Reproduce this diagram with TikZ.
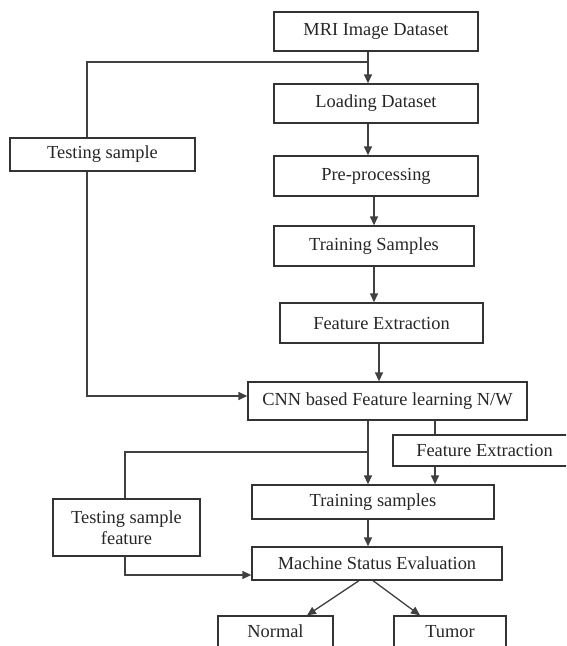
\documentclass[tikz,border=0pt]{standalone}
\usepackage{fontspec}
\setmainfont{Liberation Serif}
\usetikzlibrary{arrows.meta}
\begin{document}
\begin{tikzpicture}[x=1pt,y=-1pt,
  box/.style={draw=black!80,line width=1.3pt,rectangle,inner sep=0pt,
    font=\fontsize{18.4}{21}\selectfont,text=black!85,align=center},
  conn/.style={draw=black!75,line width=1.3pt},
  arr/.style={conn,-{Triangle[length=9pt,width=8pt]}}]
\useasboundingbox (0,0) rectangle (566,646);
\clip (0,0) rectangle (566,646);
% boxes
\node[box,minimum width=204pt,minimum height=39pt] (mri) at (376,31.5) {MRI Image Dataset};
\node[box,minimum width=204pt,minimum height=39pt] (load) at (376,103.5) {Loading Dataset};
\node[box,minimum width=204pt,minimum height=40pt] (pre) at (376,176) {Pre-processing};
\node[box,minimum width=200pt,minimum height=40pt] (trs) at (374,246) {Training Samples};
\node[box,minimum width=203pt,minimum height=40pt] (fe) at (381.5,323) {Feature Extraction};
\node[box,minimum width=279pt,minimum height=38pt] (cnn) at (387.5,401) {CNN based Feature learning N/W};
\node[box,minimum width=185pt,minimum height=33pt] (ts) at (102.5,154.5) {Testing sample};
\node[box,minimum width=183pt,minimum height=31pt] (fe2) at (484.5,450.5) {Feature Extraction};
\node[box,minimum width=242pt,minimum height=34pt] (trs2) at (373,502) {Training samples};
\node[box,minimum width=147pt,minimum height=57pt] (tsf) at (126.5,527.5) {Testing sample\\feature};
\node[box,minimum width=250pt,minimum height=33pt] (mse) at (377,563.5) {Machine Status Evaluation};
\node[box,minimum width=115pt,minimum height=31pt] (normal) at (275.5,631.5) {Normal};
\node[box,minimum width=112pt,minimum height=31pt] (tumor) at (450,631.5) {Tumor};
% guide coordinates
\coordinate (xa) at (368,0);
\coordinate (xb) at (374,0);
\coordinate (xc) at (379,0);
\coordinate (xl) at (87,0);
\coordinate (j1) at (368,62);
\coordinate (j2) at (87,396);
\coordinate (xd) at (368,0);
\coordinate (xe) at (435,0);
\coordinate (xf) at (125,0);
\coordinate (j3) at (368,452);
\coordinate (j4) at (125,575);
% connectors
\draw[arr] (mri.south -| xa) -- (load.north -| xa);
\draw[conn] (j1) -| (ts.north -| xl);
\draw[arr] (load.south -| xa) -- (pre.north -| xa);
\draw[arr] (pre.south -| xb) -- (trs.north -| xb);
\draw[arr] (trs.south -| xb) -- (fe.north -| xb);
\draw[arr] (fe.south -| xc) -- (cnn.north -| xc);
\draw[arr] (ts.south -| xl) -- (j2) -- (cnn.west |- j2);
\draw[arr] (cnn.south -| xd) -- (trs2.north -| xd);
\draw[conn] (cnn.south -| xe) -- (fe2.north -| xe);
\draw[arr] (fe2.south -| xe) -- (trs2.north -| xe);
\draw[conn] (tsf.north -| xf) |- (j3);
\draw[arr] (tsf.south -| xf) -- (j4) -- (mse.west |- j4);
\draw[arr] (trs2.south -| xd) -- (mse.north -| xd);
\draw[arr] (mse.south -| {(359,0)}) -- (normal.north -| {(307,0)});
\draw[arr] (mse.south -| {(373,0)}) -- (tumor.north -| {(420,0)});
\end{tikzpicture}
\end{document}
